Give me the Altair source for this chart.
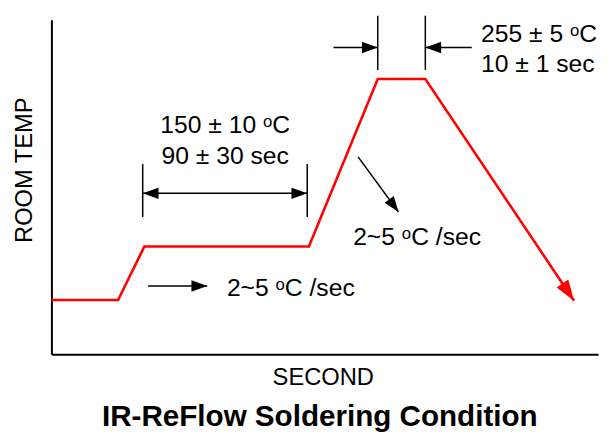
import math
import altair as alt
import pandas as pd

# Reflow profile in abstract plot units (x: time 0-100, y: temperature 0-100)
profile_x = [0, 12.2, 17.0, 47.1, 59.7, 68.4, 95.6]
profile_y = [16.2, 16.2, 32.2, 32.2, 82.3, 82.3, 16.0]

# Dimension (extension) lines
tick_x = [59.7, 68.4, 16.7, 46.8]
tick_y1 = [101.2, 101.2, 56.9, 56.9]
tick_y2 = [85.0, 85.0, 41.0, 41.0]

# Black arrows, head at the (x2, y2) end
arrow_x1 = [51.6, 76.9, 31.75, 31.75, 17.7, 56.1]
arrow_y1 = [91.7, 91.7, 48.1, 48.1, 20.4, 59.0]
arrow_x2 = [59.7, 68.4, 16.7, 46.8, 28.5, 63.5]
arrow_y2 = [91.7, 91.7, 48.1, 48.1, 20.4, 42.5]

# Annotation labels
label_text = ["255 ± 5 ᵒC", "10 ± 1 sec", "150 ± 10 ᵒC", "90 ± 30 sec",
              "2~5 ᵒC /sec", "2~5 ᵒC /sec"]
label_x = [78.6, 78.6, 31.8, 31.8, 32.1, 55.2]
label_y = [95.6, 86.8, 68.6, 59.3, 19.8, 35.1]
label_align = ["left", "left", "center", "center", "left", "left"]

W, H = 554, 339
SX, SY = W / 100.0, H / 100.0
FONT = "Liberation Sans"


def head_angle(x1, y1, x2, y2):
    a = math.degrees(math.atan2((x2 - x1) * SX, (y2 - y1) * SY))
    return round(a % 360, 2)


profile = pd.DataFrame({"x": profile_x, "y": profile_y, "o": list(range(len(profile_x)))})
ticks = pd.DataFrame({"x": tick_x, "y": tick_y1, "y2": tick_y2})
arrows = pd.DataFrame({"x": arrow_x1, "y": arrow_y1, "x2": arrow_x2, "y2": arrow_y2})
heads = pd.DataFrame({
    "x": arrow_x2, "y": arrow_y2,
    "ang": [head_angle(a, b, c, d) for a, b, c, d in zip(arrow_x1, arrow_y1, arrow_x2, arrow_y2)],
})
red_head = pd.DataFrame({
    "x": [profile_x[-1]], "y": [profile_y[-1]],
    "ang": [head_angle(profile_x[-2], profile_y[-2], profile_x[-1], profile_y[-1])],
})
labels = pd.DataFrame({"t": label_text, "x": label_x, "y": label_y, "al": label_align})

xs = alt.Scale(domain=[0, 100], nice=False, zero=False)
ys = alt.Scale(domain=[0, 100], nice=False, zero=False)

x_axis = alt.Axis(
    title="SECOND", domain=True, domainColor="black", domainWidth=2,
    ticks=False, labels=False, grid=False,
    titleFont=FONT, titleFontSize=24, titleFontWeight="normal", titleColor="black",
    titleX=275, titleY=24, titleBaseline="middle", titleAlign="center",
)
y_axis = alt.Axis(
    title="ROOM TEMP", domain=True, domainColor="black", domainWidth=2,
    ticks=False, labels=False, grid=False,
    titleFont=FONT, titleFontSize=24, titleFontWeight="normal", titleColor="black",
    titleX=-27, titleY=152, titleAngle=270, titleBaseline="middle", titleAlign="center",
)

X = alt.X("x:Q", scale=xs, axis=x_axis)
Y = alt.Y("y:Q", scale=ys, axis=y_axis)

line = alt.Chart(profile).mark_line(color="#ff0000", strokeWidth=2.6).encode(
    x=X, y=Y, order="o:Q",
)

red_tip = alt.Chart(red_head).mark_point(
    shape="M0,0L0.34,1L-0.34,1Z", filled=True, opacity=1, color="#ff0000",
    size=(2 * 21) ** 2, strokeWidth=0,
).encode(x=X, y=Y, angle=alt.Angle("ang:Q", scale=None))

tick_rules = alt.Chart(ticks).mark_rule(color="black", strokeWidth=1.5).encode(
    x=X, y=Y, y2="y2:Q",
)

arrow_rules = alt.Chart(arrows).mark_rule(color="black", strokeWidth=1.5).encode(
    x=X, y=Y, x2="x2:Q", y2="y2:Q",
)

arrow_heads = alt.Chart(heads).mark_point(
    shape="M0,0L0.36,1L-0.36,1Z", filled=True, opacity=1, color="black",
    size=(2 * 16) ** 2, strokeWidth=0,
).encode(x=X, y=Y, angle=alt.Angle("ang:Q", scale=None))

text_left = alt.Chart(labels).transform_filter(alt.datum.al == "left").mark_text(
    font=FONT, fontSize=25, color="black", align="left", baseline="middle",
).encode(x=X, y=Y, text="t:N")

text_center = alt.Chart(labels).transform_filter(alt.datum.al == "center").mark_text(
    font=FONT, fontSize=25, color="black", align="center", baseline="middle",
).encode(x=X, y=Y, text="t:N")

chart = alt.layer(
    line, red_tip, tick_rules, arrow_rules, arrow_heads, text_left, text_center
).properties(
    width=W, height=H,
    autosize=alt.AutoSizeParams(type="none"),
    padding={"left": 44, "top": 9, "right": 4, "bottom": 78},
    background="white",
    title=alt.TitleParams(
        "IR-ReFlow Soldering Condition", orient="bottom", anchor="middle",
        font=FONT, fontSize=30, fontWeight="bold", color="black", offset=13, dx=-5,
    ),
).configure_view(stroke=None)

chart.save("out.html", embed_options={"renderer": "svg", "actions": False})
